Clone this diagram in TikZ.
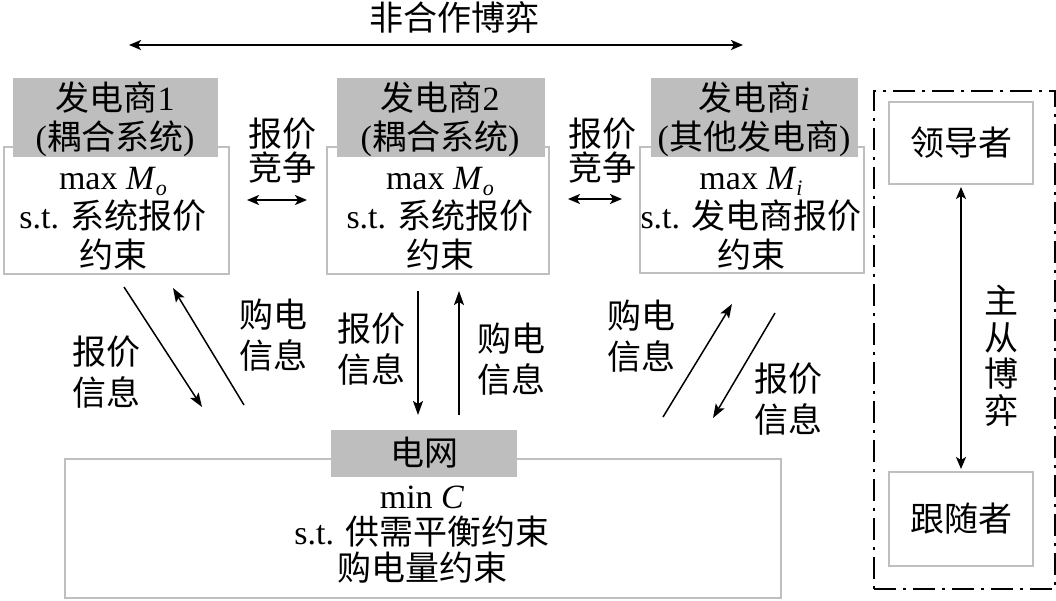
\documentclass[tikz,border=0pt]{standalone}
\usepackage{fontspec}
\setmainfont{Liberation Serif}
\newfontfamily\cjk{Noto Sans CJK SC}
\usetikzlibrary{arrows.meta}
\definecolor{boxline}{HTML}{BFBFBF}
\definecolor{headfill}{HTML}{BEBEBE}
\newcommand\zh[1]{{\cjk #1}}
\newcommand\subit[2]{\textit{#1}\raisebox{-0.16em}{\smash{\fontsize{22}{22}\selectfont\textit{#2}}}}
\begin{document}
\begin{tikzpicture}[x=1pt,y=-1pt,
  every node/.style={font=\fontsize{34}{39}\selectfont},
  outline/.style={draw=boxline,line width=2pt,fill=white,rectangle,inner sep=0pt,anchor=north west},
  header/.style={fill=headfill,rectangle,inner sep=0pt,anchor=north west},
  txt/.style={align=center,inner sep=0pt},
  lbl/.style={align=center,inner sep=0pt,font=\fontsize{34}{41}\selectfont},
  arr/.style={line width=1.5pt,-{Stealth[length=14pt,width=10pt,inset=3pt]}},
  biarr/.style={line width=1.8pt,{Stealth[length=12pt,width=10pt,inset=3pt]}-{Stealth[length=12pt,width=10pt,inset=3pt]}},
  dashdotbox/.style={draw,line width=2pt,dash pattern=on 22pt off 7pt on 3pt off 7pt,rectangle,inner sep=0pt,anchor=north west}
]
\useasboundingbox (0,0) rectangle (1056,601);

% title
\node[txt] (title) at (454,18) {\zh{非合作博弈}};
\coordinate (tl) at (129,45);
\coordinate (tr) at (743,45);
\draw[biarr] (tl) -- (tr);

% generator 1
\node[outline,minimum width=225pt,minimum height=127pt] (g1box) at (3,146) {};
\node[header,minimum width=205pt,minimum height=79pt] (g1head) at (13,78) {};
\node[txt] (g1title) at (115,119) {\zh{发电商}1\\(\zh{耦合系统})};
\node[txt] (g1body) at (113,219) {max \subit{M}{o}\\s.t. \zh{系统报价}\\\zh{约束}};

% generator 2
\node[outline,minimum width=222pt,minimum height=127pt] (g2box) at (326,146) {};
\node[header,minimum width=208pt,minimum height=79pt] (g2head) at (337,78) {};
\node[txt] (g2title) at (440,119) {\zh{发电商}2\\(\zh{耦合系统})};
\node[txt] (g2body) at (440,219) {max \subit{M}{o}\\s.t. \zh{系统报价}\\\zh{约束}};

% generator i
\node[outline,minimum width=224pt,minimum height=126pt] (g3box) at (639,146) {};
\node[header,minimum width=207pt,minimum height=79pt] (g3head) at (651,78) {};
\node[txt] (g3title) at (754,119) {\zh{发电商}\textit{i}\\(\zh{其他发电商})};
\node[txt] (g3body) at (751,219) {max \subit{M}{i}\\s.t. \zh{发电商报价}\\\zh{约束}};

% competition labels
\node[txt,font=\fontsize{34}{34}\selectfont] (comp1) at (282,151) {\zh{报价}\\\zh{竞争}};
\coordinate (c1l) at (247,200);
\coordinate (c1r) at (307,200);
\draw[biarr] (c1l) -- (c1r);
\node[txt,font=\fontsize{34}{34}\selectfont] (comp2) at (602,151) {\zh{报价}\\\zh{竞争}};
\coordinate (c2l) at (568,199);
\coordinate (c2r) at (622,199);
\draw[biarr] (c2l) -- (c2r);

% grid
\node[outline,minimum width=716pt,minimum height=139pt] (gridbox) at (64,458) {};
\node[header,minimum width=186pt,minimum height=47pt] (gridhead) at (331,430) {};
\node[txt] (gridtitle) at (424,453) {\zh{电网}};
\node[txt,font=\fontsize{34}{36}\selectfont] (gridbody) at (422,535) {min \textit{C}\\s.t. \zh{供需平衡约束}\\\zh{购电量约束}};

% information arrows
\coordinate (a1s) at (124,287); \coordinate (a1e) at (202,407);
\coordinate (a2s) at (244,405); \coordinate (a2e) at (173,288);
\coordinate (a3s) at (418,291); \coordinate (a3e) at (418,415);
\coordinate (a4s) at (459,415); \coordinate (a4e) at (459,291);
\coordinate (a5s) at (663,417); \coordinate (a5e) at (732,304);
\coordinate (a6s) at (775,313); \coordinate (a6e) at (713,418);
\draw[arr] (a1s) -- (a1e);
\draw[arr] (a2s) -- (a2e);
\draw[arr] (a3s) -- (a3e);
\draw[arr] (a4s) -- (a4e);
\draw[arr] (a5s) -- (a5e);
\draw[arr] (a6s) -- (a6e);

\node[lbl] (l1) at (106,372) {\zh{报价}\\\zh{信息}};
\node[lbl] (l2) at (273,335) {\zh{购电}\\\zh{信息}};
\node[lbl] (l3) at (371,349) {\zh{报价}\\\zh{信息}};
\node[lbl] (l4) at (511,359) {\zh{购电}\\\zh{信息}};
\node[lbl] (l5) at (641,336) {\zh{购电}\\\zh{信息}};
\node[lbl] (l6) at (788,399) {\zh{报价}\\\zh{信息}};

% leader-follower frame
\node[dashdotbox,minimum width=181pt,minimum height=498pt] (frame) at (873,90) {};
\node[draw=boxline,line width=2pt,rectangle,inner sep=0pt,minimum width=144pt,minimum height=82pt] (leader) at (961,143) {\zh{领导者}};
\node[draw=boxline,line width=2pt,rectangle,inner sep=0pt,minimum width=144pt,minimum height=94pt] (follower) at (961,519) {\zh{跟随者}};
\draw[biarr,shorten <=2pt,shorten >=2pt] (leader.south) -- (follower.north);
\node[txt,font=\fontsize{34}{36.5}\selectfont] (zcby) at (1001,356) {\zh{主}\\\zh{从}\\\zh{博}\\\zh{弈}};
\end{tikzpicture}
\end{document}
